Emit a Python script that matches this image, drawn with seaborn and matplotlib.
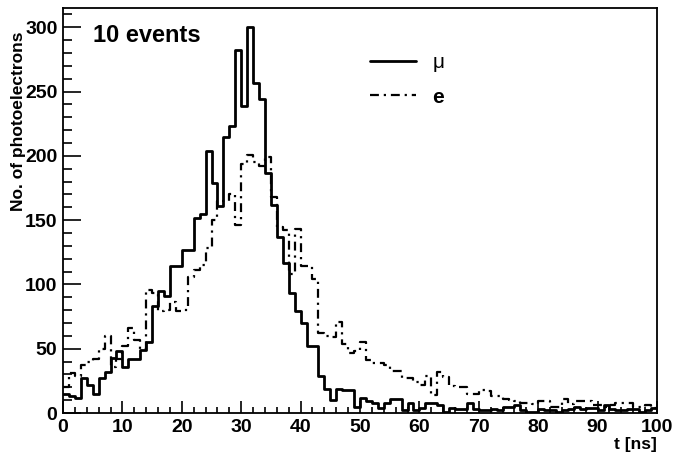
import numpy as np
import matplotlib
matplotlib.use("Agg")
import matplotlib.pyplot as plt
import seaborn as sns
from matplotlib.ticker import MultipleLocator

# ---- data (photoelectrons per 1 ns bin, 0..100 ns) ----
t_edges = list(range(0, 101))

mu_counts = [15, 13, 12, 27, 22, 15, 27, 32, 43, 48,
             36, 42, 42, 49, 55, 83, 95, 91, 114, 114,
             127, 127, 152, 155, 204, 179, 161, 215, 223, 282,
             239, 300, 257, 244, 187, 162, 137, 117, 93, 79,
             70, 52, 52, 29, 19, 10, 19, 18, 18, 5,
             12, 9.5, 8, 4, 8, 11, 11, 2.5, 8, 2,
             4, 8, 8, 6, 1, 4, 3, 3, 8, 3,
             2, 2, 3, 2, 5, 5, 6, 2, 1, 1,
             3, 2, 2, 1, 2, 3, 5, 3, 4, 4,
             2, 6, 3, 2, 2, 3, 3, 1, 2, 4]

e_counts = [20, 31, 29, 37, 40, 42, 50, 60, 36, 42,
            52, 66, 57, 50, 96, 93, 79, 80, 86, 79,
            80, 106, 111, 115, 128, 150, 165, 165, 170, 146,
            194, 201, 195, 192, 199, 168, 145, 142, 108, 143,
            114, 114, 104, 62, 60, 59, 71, 54, 47, 48,
            55, 41, 39, 39, 37, 33, 33, 27, 27, 24,
            22, 29, 14, 32, 28, 21, 20, 20, 15, 15,
            18, 17, 13, 13, 11, 10, 9.5, 7.5, 7.5, 7,
            9, 9, 5, 5, 11, 7, 9, 9.5, 9.5, 6,
            6, 5, 6, 7.5, 7.5, 7.5, 5, 5, 6, 4]

x_ticks = [0, 10, 20, 30, 40, 50, 60, 70, 80, 90, 100]
y_ticks = [0, 50, 100, 150, 200, 250, 300]

sns.set_style("white")
plt.rcParams["font.family"] = ["Liberation Sans", "DejaVu Sans"]
plt.rcParams["font.weight"] = "bold"
for k in ["text.color", "axes.labelcolor", "xtick.color", "ytick.color",
          "xtick.labelcolor", "ytick.labelcolor", "axes.edgecolor"]:
    plt.rcParams[k] = "black"

W, H = 673, 459
fig = plt.figure(figsize=(W / 100, H / 100), dpi=100)
ax = fig.add_axes([63 / W, 1 - 413 / H, 594 / W, 405 / H])

mu_steps = mu_counts + [mu_counts[-1]]
e_steps = e_counts + [e_counts[-1]]

sns.lineplot(x=t_edges, y=e_steps, ax=ax, drawstyle="steps-post",
             color="black", linewidth=1.6, linestyle=(0, (4, 2.2, 1, 2.2)),
             estimator=None)
sns.lineplot(x=t_edges, y=mu_steps, ax=ax, drawstyle="steps-post",
             color="black", linewidth=2.0, estimator=None)

lines = ax.get_lines()
e_line, mu_line = lines[0], lines[1]

ax.set_xlim(0, 100)
ax.set_ylim(0, 1.05 * max(mu_counts))
ax.set_xticks(x_ticks)
ax.set_yticks(y_ticks)
ax.xaxis.set_minor_locator(MultipleLocator(2))
ax.yaxis.set_minor_locator(MultipleLocator(10))
ax.tick_params(which="both", direction="in", top=False, right=False,
               bottom=True, left=True, width=1.2, labelsize=14,
               color="black", labelcolor="black")
ax.tick_params(axis="x", which="major", length=8.6, pad=4)
ax.tick_params(axis="x", which="minor", length=4.3)
ax.tick_params(axis="y", which="major", length=13, pad=4)
ax.tick_params(axis="y", which="minor", length=6.5)
for lab in ax.get_xticklabels() + ax.get_yticklabels():
    lab.set_fontweight("bold")
for s in ax.spines.values():
    s.set_linewidth(1.3)
    s.set_color("black")
ax.set_xlabel("")
ax.set_ylabel("")

fig.text(19 / W, 1 - 121 / H, "No. of photoelectrons", rotation=90,
         ha="center", va="center", fontsize=12.5, fontweight="bold", color="black")
fig.text(657 / W, 1 - 444 / H, "t [ns]", ha="right", va="center",
         fontsize=12.5, fontweight="bold", color="black")
ax.text((93 - 63) / 594, (413 - 36) / 405, "10 events", transform=ax.transAxes,
        ha="left", va="center", fontsize=17, fontweight="bold", color="black")

leg = ax.legend(handles=[mu_line, e_line], labels=["\u03bc", "e"],
                loc="upper left", bbox_to_anchor=((370 - 63) / 594, (413 - 53) / 405),
                frameon=False, fontsize=15, handlelength=2.2, handletextpad=0.8,
                labelspacing=0.75, borderpad=0, borderaxespad=0)
leg.get_texts()[0].set_fontweight("normal")
leg.get_texts()[1].set_fontweight("bold")
for t in leg.get_texts():
    t.set_color("black")

fig.savefig("out.png", dpi=100)
